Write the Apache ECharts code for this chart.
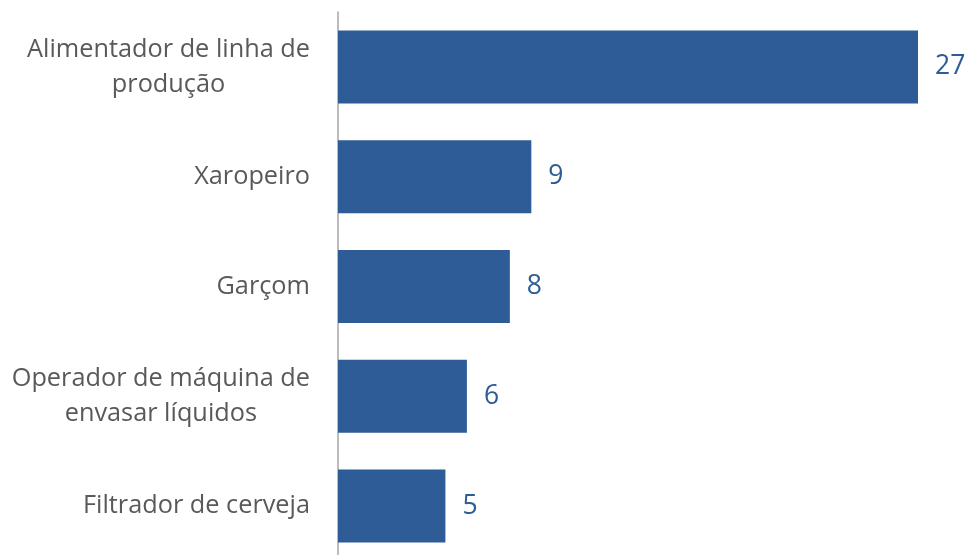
<!DOCTYPE html>
<html>
<head>
<meta charset="utf-8">
<script src="https://cdn.jsdelivr.net/npm/echarts@6/dist/echarts.min.js"></script>
<style>
  html, body { margin: 0; padding: 0; background: #ffffff; }
  #chart { width: 968px; height: 555px; }
</style>
</head>
<body>
<div id="chart"></div>
<script>
// Occupations and counts, top to bottom
const occupations = [
  'Alimentador de linha de\nprodução',
  'Xaropeiro',
  'Garçom',
  'Operador de máquina de\nenvasar líquidos',
  'Filtrador de cerveja'
];
const counts = [27, 9, 8, 6, 5];

const barColor = '#2D5C96';
const textFont = '"Open Sans", "Noto Sans", sans-serif';

const chart = echarts.init(document.getElementById('chart'), null, { renderer: 'canvas' });
chart.setOption({
  animation: false,
  backgroundColor: '#ffffff',
  // the plot runs a little past the bottom edge of the canvas
  grid: {
    left: 338, width: 580, top: 12, height: 549,
    containLabel: false,
    outerBoundsMode: 'none'
  },
  xAxis: {
    type: 'value',
    min: 0,
    max: 27,
    show: false
  },
  yAxis: {
    type: 'category',
    data: occupations,
    inverse: true,
    axisLine: { show: true, lineStyle: { color: '#A6A6A6', width: 1.5 } },
    axisTick: { show: false },
    splitLine: { show: false },
    axisLabel: {
      align: 'right',
      margin: 28,
      // each line centred within the right-aligned label block
      formatter: (v) => v.split('\n').map((line) => '{c|' + line + '}').join('\n'),
      rich: {
        c: {
          align: 'center',
          color: '#595959',
          fontFamily: textFont,
          fontSize: 25.3,
          lineHeight: 35
        }
      }
    }
  },
  series: [{
    type: 'bar',
    data: counts,
    barWidth: 73,
    itemStyle: { color: barColor },
    label: {
      show: true,
      position: 'right',
      distance: 17,
      color: barColor,
      fontFamily: textFont,
      fontSize: 26.5
    }
  }]
});
</script>
</body>
</html>
